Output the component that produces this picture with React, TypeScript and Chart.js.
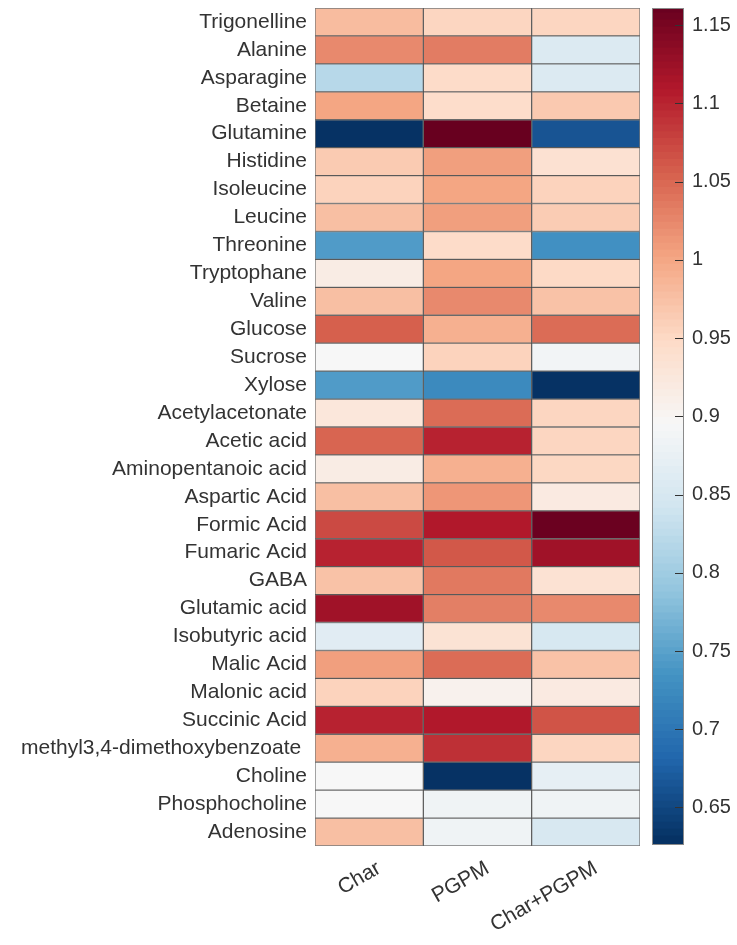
import { useEffect, useRef } from "react";
import { Chart, registerables } from "chart.js";

Chart.register(...registerables);

// Row labels (metabolites) and column labels (treatments)
const metabolites = [
  "Trigonelline",
  "Alanine",
  "Asparagine",
  "Betaine",
  "Glutamine",
  "Histidine",
  "Isoleucine",
  "Leucine",
  "Threonine",
  "Tryptophane",
  "Valine",
  "Glucose",
  "Sucrose",
  "Xylose",
  "Acetylacetonate",
  "Acetic acid",
  "Aminopentanoic acid",
  "Aspartic Acid",
  "Formic Acid",
  "Fumaric Acid",
  "GABA",
  "Glutamic acid",
  "Isobutyric acid",
  "Malic Acid",
  "Malonic acid",
  "Succinic Acid",
  "methyl3,4-dimethoxybenzoate ",
  "Choline",
  "Phosphocholine",
  "Adenosine",
];

const treatments = ["Char", "PGPM", "Char+PGPM"];

// Relative abundance (fold change) per treatment
const charValues = [
  0.978, 1.022, 0.818, 1.0, 0.628, 0.963, 0.955, 0.975, 0.742, 0.915,
  0.975, 1.054, 0.893, 0.742, 0.925, 1.05, 0.915, 0.975, 1.07, 1.1,
  0.972, 1.12, 0.862, 1.005, 0.955, 1.1, 0.99, 0.894, 0.893, 0.975,
];

const pgpmValues = [
  0.952, 1.032, 0.945, 0.943, 1.16, 1.005, 1.0, 1.005, 0.945, 1.0,
  1.022, 0.99, 0.955, 0.722, 1.045, 1.1, 0.99, 1.012, 1.108, 1.06,
  1.035, 1.03, 0.932, 1.045, 0.905, 1.108, 1.09, 0.628, 0.882, 0.882,
];

const charPgpmValues = [
  0.952, 0.855, 0.855, 0.965, 0.662, 0.935, 0.955, 0.962, 0.73, 0.948,
  0.972, 1.045, 0.886, 0.628, 0.952, 0.952, 0.95, 0.918, 1.158, 1.12,
  0.934, 1.022, 0.848, 0.972, 0.918, 1.063, 0.952, 0.87, 0.882, 0.85,
];

// Colour scale
const colorMin = 0.626;
const colorMax = 1.161;
const colorbarTicks = [0.65, 0.7, 0.75, 0.8, 0.85, 0.9, 0.95, 1, 1.05, 1.1, 1.15];
const bandCount = 120;

// RdBu reversed (blue → white → red)
const rdbuStops = [
  "#053061",
  "#2166ac",
  "#4393c3",
  "#92c5de",
  "#d1e5f0",
  "#f7f7f7",
  "#fddbc7",
  "#f4a582",
  "#d6604d",
  "#b2182b",
  "#67001f",
];

const FONT_FAMILY = '"Liberation Sans", Arial, Helvetica, sans-serif';
const TEXT_COLOR = "#333333";

function hexToRgb(hex: string): [number, number, number] {
  const n = parseInt(hex.slice(1), 16);
  return [(n >> 16) & 255, (n >> 8) & 255, n & 255];
}

const stopRgb = rdbuStops.map(hexToRgb);

function colorFor(value: number): string {
  let t = (value - colorMin) / (colorMax - colorMin);
  t = Math.max(0, Math.min(1, t));
  const pos = t * (stopRgb.length - 1);
  const i = Math.min(stopRgb.length - 2, Math.floor(pos));
  const f = pos - i;
  const a = stopRgb[i];
  const b = stopRgb[i + 1];
  const c = a.map((v, k) => Math.round(v + (b[k] - v) * f));
  return `rgb(${c[0]},${c[1]},${c[2]})`;
}

const columnValues = [charValues, pgpmValues, charPgpmValues];

// Draws the colorbar outline and the short inward tick marks
const colorbarFrame = {
  id: "colorbarFrame",
  afterDatasetsDraw(chart: any) {
    const { ctx, chartArea } = chart;
    const yScale = chart.scales.y;
    ctx.save();
    ctx.strokeStyle = "#333333";
    ctx.lineWidth = 1;
    for (const v of colorbarTicks) {
      const y = Math.round(yScale.getPixelForValue(v)) + 0.5;
      ctx.beginPath();
      ctx.moveTo(chartArea.right - 9, y);
      ctx.lineTo(chartArea.right, y);
      ctx.stroke();
    }
    ctx.strokeStyle = "#8a8a8a";
    ctx.strokeRect(
      Math.round(chartArea.left) + 0.5,
      Math.round(chartArea.top) + 0.5,
      Math.round(chartArea.right - chartArea.left) - 1,
      Math.round(chartArea.bottom - chartArea.top) - 1
    );
    ctx.restore();
  },
};

function formatTick(v: number): string {
  return String(Math.round(v * 100) / 100);
}

function clearScalePadding(scale: any) {
  scale.paddingTop = 0;
  scale.paddingBottom = 0;
  scale.paddingLeft = 0;
  scale.paddingRight = 0;
}

export default function App() {
  const heatRef = useRef<HTMLCanvasElement | null>(null);
  const barRef = useRef<HTMLCanvasElement | null>(null);

  useEffect(() => {
    if (!heatRef.current || !barRef.current) return;

    const heatmap = new Chart(heatRef.current, {
      type: "bar",
      data: {
        labels: metabolites,
        datasets: columnValues.map((vals, i) => ({
          label: treatments[i],
          data: vals.map(() => 1),
          backgroundColor: vals.map(colorFor),
          borderColor: "rgba(30,30,30,0.6)",
          borderWidth: 1,
          borderSkipped: false,
          barPercentage: 1,
          categoryPercentage: 1,
        })),
      },
      options: {
        indexAxis: "y",
        responsive: false,
        animation: false,
        devicePixelRatio: 1,
        layout: { padding: { left: 0, top: 8, right: 5, bottom: 0 } },
        plugins: {
          legend: { display: false },
          tooltip: { enabled: false },
        },
        scales: {
          x: {
            type: "linear",
            min: 0,
            max: treatments.length,
            stacked: true,
            grid: { display: false, drawTicks: false },
            border: { display: false },
            afterBuildTicks: (scale: any) => {
              scale.ticks = treatments.map((_, i) => ({ value: i + 0.5 }));
            },
            afterFit: (scale: any) => {
              scale.height = 99;
              clearScalePadding(scale);
            },
            ticks: {
              autoSkip: false,
              minRotation: 30,
              maxRotation: 30,
              padding: 10,
              labelOffset: 10,
              color: TEXT_COLOR,
              font: { family: FONT_FAMILY, size: 21 },
              callback: (value: any) => treatments[Math.floor(Number(value))] ?? "",
            },
          },
          y: {
            type: "category",
            stacked: true,
            grid: { display: false, drawTicks: false },
            border: { display: false },
            afterFit: (scale: any) => {
              scale.width = 315;
              clearScalePadding(scale);
            },
            ticks: {
              autoSkip: false,
              padding: 8,
              color: TEXT_COLOR,
              font: { family: FONT_FAMILY, size: 21 },
            },
          },
        },
      },
    });

    const step = (colorMax - colorMin) / bandCount;
    const bands = Array.from({ length: bandCount }, (_, i) => {
      const lo = colorMin + i * step;
      const hi = i === bandCount - 1 ? colorMax : lo + step * 1.3;
      return { lo, hi, color: colorFor(lo + step / 2) };
    });

    const colorbar = new Chart(barRef.current, {
      type: "bar",
      data: {
        labels: [""],
        datasets: bands.map((b) => ({
          data: [[b.lo, b.hi]],
          backgroundColor: b.color,
          borderWidth: 0,
          barPercentage: 1,
          categoryPercentage: 1,
        })),
      },
      options: {
        responsive: false,
        animation: false,
        devicePixelRatio: 1,
        layout: { padding: { left: 7, top: 8, right: 0, bottom: 100 } },
        plugins: {
          legend: { display: false },
          tooltip: { enabled: false },
        },
        scales: {
          x: { display: false, stacked: true },
          y: {
            type: "linear",
            position: "right",
            min: colorMin,
            max: colorMax,
            grid: { display: false, drawTicks: false },
            border: { display: false },
            afterBuildTicks: (scale: any) => {
              scale.ticks = colorbarTicks.map((v) => ({ value: v }));
            },
            afterFit: (scale: any) => {
              scale.width = 53;
              clearScalePadding(scale);
            },
            ticks: {
              padding: 8,
              color: TEXT_COLOR,
              font: { family: FONT_FAMILY, size: 20 },
              callback: (value: any) => formatTick(Number(value)),
            },
          },
        },
      },
      plugins: [colorbarFrame],
    });

    return () => {
      heatmap.destroy();
      colorbar.destroy();
    };
  }, []);

  return (
    <div
      style={{
        position: "fixed",
        left: 0,
        top: 0,
        width: 737,
        height: 945,
        background: "#ffffff",
        overflow: "hidden",
      }}
    >
      <canvas
        ref={heatRef}
        width={645}
        height={945}
        style={{ position: "absolute", left: 0, top: 0 }}
      />
      <canvas
        ref={barRef}
        width={92}
        height={945}
        style={{ position: "absolute", left: 645, top: 0 }}
      />
    </div>
  );
}
